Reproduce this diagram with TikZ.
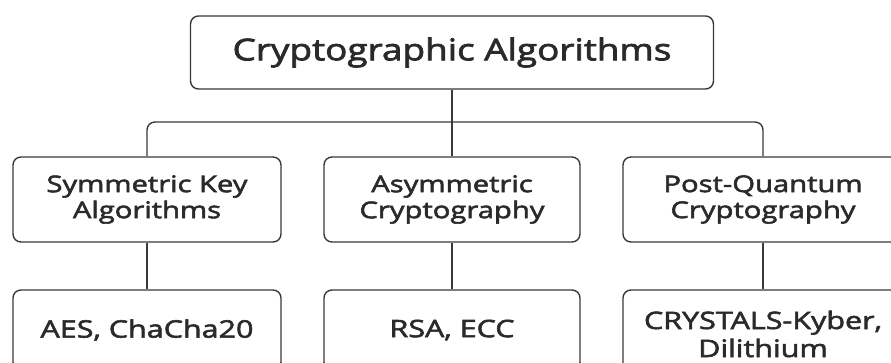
\documentclass[tikz,border=0pt]{standalone}
\usepackage{fontspec}
\setmainfont{Open Sans}[FakeBold=2.4,FakeStretch=1.25]
\newfontfamily\topfont{Open Sans}[FakeBold=2.4,FakeStretch=1.23]
\newfontfamily\lblfont{Open Sans}[FakeBold=2.4,FakeStretch=1.27]
\definecolor{ink}{HTML}{2A2A2A}
\definecolor{edge}{HTML}{3A3A3A}
\begin{document}
\begin{tikzpicture}[x=1pt,y=-1pt,
  box/.style={draw=edge, line width=1.4pt, rounded corners=8pt, align=center, text=ink, inner sep=0pt},
  midtext/.style={font=\lblfont\fontsize{23}{26}\selectfont},
  lowtext/.style={font=\lblfont\fontsize{24}{28}\selectfont},
  conn/.style={draw=edge, line width=1.4pt}]
\useasboundingbox (0,0) rectangle (891,363);
\clip (0,0) rectangle (891,363);
\fill[white] (0,0) rectangle (891,363);
\node[box, minimum width=523pt, minimum height=73pt, font=\topfont\fontsize{30}{33}\selectfont] (top) at (452,52.5) {Cryptographic Algorithms};
\node[box, midtext, minimum width=268pt, minimum height=85pt] (sym) at (147,199.5) {Symmetric Key\\Algorithms};
\node[box, midtext, minimum width=256pt, minimum height=85pt] (asym) at (452,199.5) {Asymmetric\\Cryptography};
\node[box, midtext, minimum width=280pt, minimum height=85pt] (post) at (763,199.5) {Post-Quantum\\Cryptography};
\node[box, lowtext, minimum width=268pt, minimum height=80pt] (aes) at (147,330) {AES, ChaCha20};
\node[box, lowtext, minimum width=256pt, minimum height=80pt] (rsa) at (452,330) {RSA, ECC};
\node[box, lowtext, minimum width=280pt, minimum height=88pt] (kyber) at (763,334) {CRYSTALS-Kyber,\\Dilithium};
\coordinate (j) at (452,122);
\draw[conn] (top.south) -- (j);
\draw[conn, rounded corners=8pt] (sym.north) |- (j) -| (post.north);
\draw[conn] (j) -- (asym.north);
\draw[conn] (sym.south) -- (aes.north);
\draw[conn] (asym.south) -- (rsa.north);
\draw[conn] (post.south) -- (kyber.north);
\end{tikzpicture}
\end{document}
